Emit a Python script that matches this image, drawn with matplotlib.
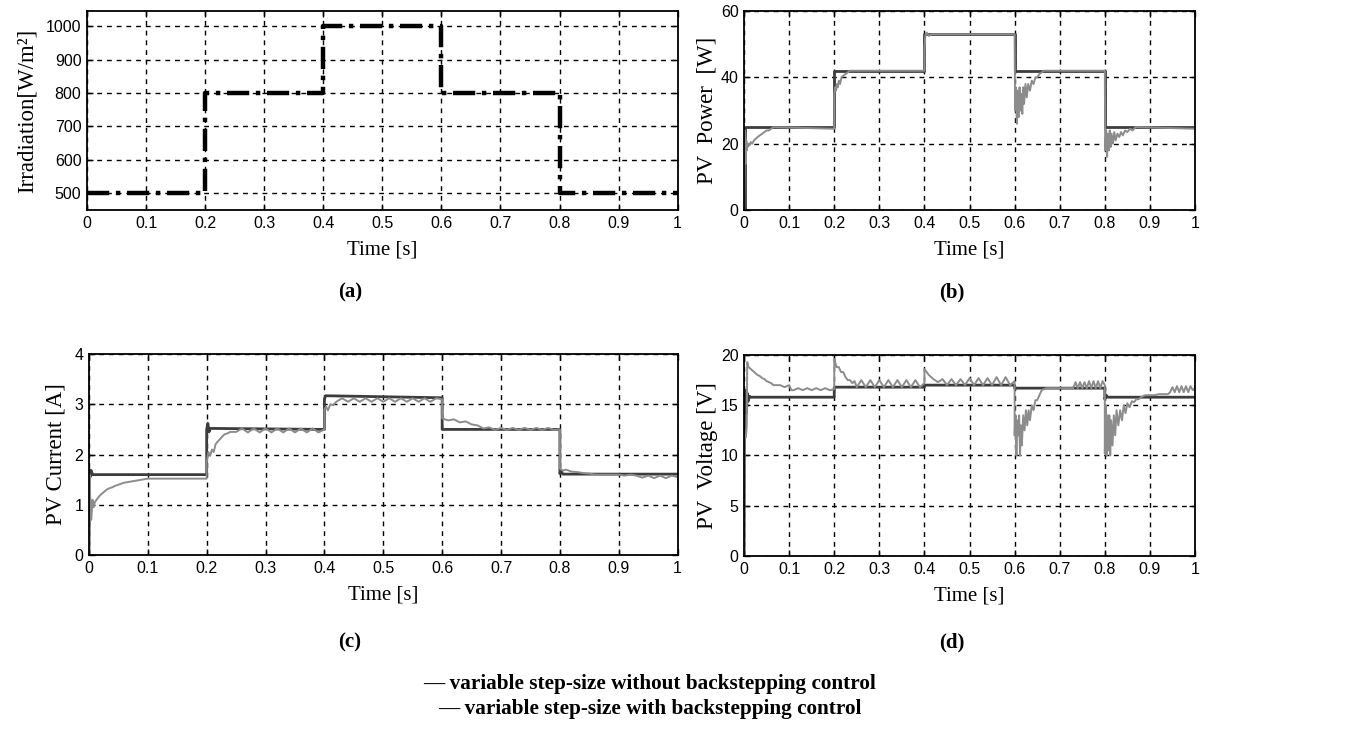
import matplotlib
matplotlib.use("Agg")
import matplotlib.pyplot as plt

# (a) irradiation profile
irr_time = [0, 0.2, 0.2, 0.4, 0.4, 0.6, 0.6, 0.8, 0.8, 1.0]
irr_vals = [500, 500, 800, 800, 1000, 1000, 800, 800, 500, 500]

# (b) PV power
pw_time_bs = [0, 0.002, 0.002, 0.2, 0.2, 0.4, 0.4, 0.6, 0.6, 0.8, 0.8, 1.0]
pw_bs = [0, 0, 25, 25, 42, 42, 53, 53, 42, 42, 25, 25]
pw_time_nobs = [0, 0.001, 0.002, 0.003, 0.004, 0.005, 0.006, 0.007, 0.008, 0.010, 0.012,
                0.015, 0.018, 0.022, 0.026, 0.030, 0.035, 0.040, 0.045, 0.050, 0.055,
                0.060, 0.065, 0.2,
                0.2, 0.202, 0.204, 0.206, 0.208, 0.210, 0.213, 0.216, 0.220, 0.225, 0.230,
                0.235, 0.4,
                0.4, 0.402, 0.405, 0.41, 0.415, 0.6,
                0.6, 0.601, 0.603, 0.605, 0.607, 0.609, 0.611, 0.613, 0.615, 0.617, 0.619,
                0.621, 0.624, 0.627, 0.630, 0.634, 0.638, 0.642, 0.646, 0.650, 0.655, 0.660,
                0.665, 0.8,
                0.8, 0.801, 0.803, 0.805, 0.807, 0.809, 0.811, 0.813, 0.815, 0.818, 0.821,
                0.824, 0.828, 0.832, 0.836, 0.840, 0.845, 0.850, 0.856, 0.862, 0.868, 0.875, 1.0]
pw_nobs = [0, 10, 24, 22, 14, 21, 18, 20, 19, 20, 19.5,
           20.5, 20, 21, 21.5, 22, 22.5, 23, 23.5, 24, 24,
           24.5, 25, 24.5,
           35, 37, 36, 38, 37, 39, 38, 40, 40.5, 41, 41.5,
           42, 42,
           48, 52.5, 53.5, 52.5, 53, 53,
           52, 30, 37, 26, 36, 28, 37, 30, 35, 29, 37,
           32, 38, 34, 38, 36, 39, 38, 40, 40, 41, 41.5,
           42, 42,
           42, 18, 24, 16, 23, 18, 24, 19, 23, 20, 23.5,
           21, 23, 22, 23.5, 22.5, 24, 23.5, 24.5, 24, 25, 25, 24.5]

# (c) PV current
cur_time_bs = [0, 0.001, 0.002, 0.004, 0.006, 0.2, 0.2, 0.202, 0.204, 0.206, 0.4, 0.4,
               0.402, 0.6, 0.6, 0.8, 0.8, 0.802, 0.805, 1.0]
cur_bs = [0, 1.7, 1.55, 1.68, 1.6, 1.6, 2.5, 2.62, 2.45, 2.52, 2.5, 3.1,
          3.17, 3.13, 2.5, 2.5, 1.62, 1.68, 1.61, 1.61]
cur_time_nobs = [0, 0.001, 0.002, 0.004, 0.006, 0.008, 0.010, 0.013, 0.016, 0.020, 0.025,
                 0.030, 0.035, 0.040, 0.045, 0.050, 0.055, 0.060, 0.070, 0.080, 0.090,
                 0.100, 0.2,
                 0.2, 0.203, 0.206, 0.209, 0.212, 0.215, 0.218, 0.222, 0.226, 0.230, 0.235,
                 0.240, 0.25, 0.26, 0.27, 0.28, 0.29, 0.30, 0.31, 0.32, 0.33, 0.34, 0.35,
                 0.36, 0.37, 0.38, 0.39, 0.4,
                 0.4, 0.403, 0.406, 0.41, 0.415, 0.42, 0.43, 0.44, 0.45, 0.46, 0.47, 0.48,
                 0.49, 0.50, 0.51, 0.52, 0.53, 0.54, 0.55, 0.56, 0.57, 0.58, 0.59, 0.6,
                 0.6, 0.61, 0.62, 0.63, 0.64, 0.65, 0.66, 0.67, 0.68, 0.69, 0.70, 0.71,
                 0.72, 0.73, 0.74, 0.75, 0.76, 0.77, 0.78, 0.79, 0.8,
                 0.8, 0.805, 0.81, 0.82, 0.83, 0.84, 0.85, 0.86, 0.87, 0.88, 0.89, 0.90,
                 0.91, 0.92, 0.93, 0.94, 0.95, 0.96, 0.97, 0.98, 0.99, 1.0]
cur_nobs = [0, 1.6, 1.2, 0.7, 1.1, 0.95, 1.05, 1.1, 1.15, 1.2, 1.25,
            1.3, 1.33, 1.35, 1.38, 1.4, 1.42, 1.44, 1.46, 1.48, 1.5,
            1.52, 1.52,
            1.85, 2.05, 1.98, 2.1, 2.05, 2.2, 2.25, 2.3, 2.35, 2.4, 2.42,
            2.45, 2.45, 2.52, 2.44, 2.52, 2.44, 2.52, 2.44, 2.52, 2.44, 2.52, 2.44,
            2.52, 2.44, 2.52, 2.44, 2.5,
            2.9, 2.95, 2.88, 3.0, 2.98, 3.05, 3.12, 3.05, 3.12, 3.05, 3.12, 3.05,
            3.12, 3.05, 3.12, 3.05, 3.12, 3.05, 3.12, 3.05, 3.12, 3.05, 3.12, 3.1,
            2.72, 2.68, 2.7, 2.64, 2.66, 2.6, 2.58, 2.52, 2.54, 2.49, 2.53, 2.49,
            2.53, 2.49, 2.53, 2.49, 2.53, 2.49, 2.53, 2.49, 2.5,
            1.72, 1.68, 1.7, 1.66, 1.65, 1.63, 1.62, 1.6, 1.6, 1.6, 1.6, 1.6,
            1.58, 1.6, 1.58, 1.54, 1.58, 1.53, 1.58, 1.53, 1.58, 1.55]

# (d) PV voltage
vol_time_bs = [0, 0.001, 0.003, 0.005, 0.007, 0.009, 0.012, 0.015, 0.2, 0.2, 0.4, 0.4,
               0.6, 0.6, 0.8, 0.8, 0.803, 0.806, 1.0]
vol_bs = [0, 15, 16.5, 14.2, 16.2, 15.4, 15.9, 15.8, 15.8, 16.8, 16.8, 17.0,
          17.0, 16.7, 16.7, 15.6, 16.0, 15.8, 15.8]
vol_time_nobs = [0, 0.001, 0.004, 0.006, 0.007, 0.010, 0.015, 0.02, 0.025, 0.03, 0.035,
                 0.04, 0.045, 0.05, 0.055, 0.06, 0.065, 0.07, 0.08, 0.09, 0.10, 0.105,
                 0.11, 0.12, 0.13, 0.14, 0.15, 0.16, 0.17, 0.18, 0.19, 0.2,
                 0.2, 0.205, 0.21, 0.215, 0.22, 0.225, 0.23, 0.235, 0.24, 0.245, 0.25,
                 0.26, 0.27, 0.28, 0.29, 0.30, 0.31, 0.32, 0.33, 0.34, 0.35, 0.36, 0.37,
                 0.38, 0.39, 0.4,
                 0.4, 0.405, 0.41, 0.415, 0.42, 0.43, 0.44, 0.45, 0.46, 0.47, 0.48, 0.49,
                 0.50, 0.51, 0.52, 0.53, 0.54, 0.55, 0.56, 0.57, 0.58, 0.59, 0.6,
                 0.6, 0.602, 0.604, 0.606, 0.608, 0.610, 0.612, 0.614, 0.616, 0.619, 0.622,
                 0.625, 0.628, 0.631, 0.634, 0.638, 0.642, 0.646, 0.650, 0.655, 0.660,
                 0.665, 0.67, 0.7, 0.73, 0.735, 0.74, 0.745, 0.75, 0.755, 0.76, 0.765,
                 0.77, 0.775, 0.78, 0.785, 0.79, 0.795, 0.8,
                 0.8, 0.802, 0.804, 0.806, 0.808, 0.810, 0.812, 0.814, 0.817, 0.820, 0.823,
                 0.826, 0.830, 0.834, 0.838, 0.842, 0.846, 0.850, 0.855, 0.860, 0.865,
                 0.870, 0.875, 0.88, 0.89, 0.90, 0.91, 0.92, 0.93, 0.94, 0.945, 0.95,
                 0.955, 0.96, 0.965, 0.97, 0.975, 0.98, 0.985, 0.99, 0.995, 1.0]
vol_nobs = [0, 12, 11.8, 13, 19.3, 18.8, 18.6, 18.4, 18.2, 18.0, 17.9,
            17.7, 17.6, 17.4, 17.3, 17.2, 17.0, 17.0, 17.0, 16.8, 17.0, 16.5,
            16.5, 16.7, 16.5, 16.7, 16.5, 16.7, 16.5, 16.7, 16.5, 16.6,
            19.6, 18.8, 18.8, 18.3, 18.3, 17.8, 17.5, 17.5, 17.2, 17.4, 16.8,
            17.5, 16.8, 17.5, 16.8, 17.5, 16.8, 17.5, 16.8, 17.5, 16.8, 17.5, 16.8,
            17.5, 16.8, 17.2,
            18.6, 18.3, 18.0, 17.8, 17.6, 17.3, 17.6, 17.0, 17.6, 17.0, 17.6, 17.0,
            17.7, 17.0, 17.7, 17.0, 17.7, 17.0, 17.8, 17.0, 17.8, 17.0, 17.4,
            12, 14, 10, 13.5, 12, 14, 10, 13, 11, 14, 12.5,
            14.5, 13, 14.5, 13.5, 15, 14.5, 15.5, 15.5, 16, 16.5,
            16.6, 16.7, 16.7, 16.7, 17.3, 16.7, 17.3, 16.7, 17.3, 16.7, 17.4,
            16.7, 17.4, 16.7, 17.4, 16.7, 17.4, 17.0,
            10.2, 15, 10, 14, 10.5, 14, 10, 13.5, 11, 14, 12,
            14.5, 13, 14.5, 13.5, 15, 14.2, 15.2, 14.8, 15.4, 15.3,
            15.6, 15.6, 15.8, 16.0, 16.0, 16.0, 16.1, 16.1, 16.1, 16.3, 16.8,
            16.3, 16.9, 16.3, 16.9, 16.3, 16.9, 16.3, 16.9, 16.5, 16.7]

x_ticks = [0, 0.1, 0.2, 0.3, 0.4, 0.5, 0.6, 0.7, 0.8, 0.9, 1]
x_ticklabels = ["0", "0.1", "0.2", "0.3", "0.4", "0.5", "0.6", "0.7", "0.8", "0.9", "1"]

DARK = "#3c3c3c"
GRAY = "#8c8c8c"
SERIF = "Liberation Serif"
SANS = "Liberation Sans"

fig = plt.figure(figsize=(13.64, 7.30), dpi=100)


def style_axes(ax, yticks, ylim, ylabel, xlabel, ypad):
    ax.set_xlim(0, 1)
    ax.set_ylim(*ylim)
    ax.set_xticks(x_ticks)
    ax.set_xticklabels(x_ticklabels)
    ax.set_yticks(yticks)
    ax.set_yticklabels([str(v) for v in yticks])
    for lbl in ax.get_xticklabels() + ax.get_yticklabels():
        lbl.set_fontfamily(SANS)
        lbl.set_fontsize(11.5)
    ax.tick_params(direction="in", length=4, width=1, top=True, right=True, pad=4)
    ax.grid(True, color="black", linestyle=(0, (3.5, 3.5)), linewidth=1.0)
    for sp in ax.spines.values():
        sp.set_linewidth(1.3)
    ax.set_ylabel(ylabel, family=SERIF, fontsize=16.5, labelpad=ypad)
    ax.set_xlabel(xlabel, family=SERIF, fontsize=15, labelpad=7)


ax_a = fig.add_axes([0.0638, 0.7123, 0.433, 0.2726])
ax_b = fig.add_axes([0.5455, 0.7123, 0.3306, 0.2726])
ax_c = fig.add_axes([0.0652, 0.2397, 0.4316, 0.2753])
ax_d = fig.add_axes([0.5455, 0.2384, 0.3306, 0.2753])

ax_a.plot(irr_time, irr_vals, color="black", linewidth=3.2,
          linestyle=(0, (5, 1.5, 1, 1.5)))
style_axes(ax_a, [500, 600, 700, 800, 900, 1000], (450, 1045),
           "Irradiation[W/m²]", "Time [s]", 6)

ax_b.plot(pw_time_bs, pw_bs, color=DARK, linewidth=2.0)
ax_b.plot(pw_time_nobs, pw_nobs, color=GRAY, linewidth=1.4)
style_axes(ax_b, [0, 20, 40, 60], (0, 60), "PV  Power  [W]", "Time [s]", 2)

ax_c.plot(cur_time_bs, cur_bs, color=DARK, linewidth=2.0)
ax_c.plot(cur_time_nobs, cur_nobs, color=GRAY, linewidth=1.4)
style_axes(ax_c, [0, 1, 2, 3, 4], (0, 4), "PV Current [A]", "Time [s]", 6)

ax_d.plot(vol_time_bs, vol_bs, color=DARK, linewidth=2.0)
ax_d.plot(vol_time_nobs, vol_nobs, color=GRAY, linewidth=1.4)
style_axes(ax_d, [0, 5, 10, 15, 20], (0, 20), "PV  Voltage [V]", "Time [s]", 2)

# panel captions
for x, y, s in [(350, 292, "(a)"), (952, 292, "(b)"), (350, 642, "(c)"), (952, 642, "(d)")]:
    fig.text(x / 1364, 1 - y / 730, s, family=SERIF, fontweight="bold",
             fontsize=15, ha="center", va="center")

fig.text(650 / 1364, 1 - 684 / 730, "— variable step-size without backstepping control",
         family=SERIF, fontweight="bold", fontsize=15.3, ha="center", va="center")
fig.text(650 / 1364, 1 - 709 / 730, "— variable step-size with backstepping control",
         family=SERIF, fontweight="bold", fontsize=15.3, ha="center", va="center")

fig.savefig("out.png", dpi=100, facecolor="white")
